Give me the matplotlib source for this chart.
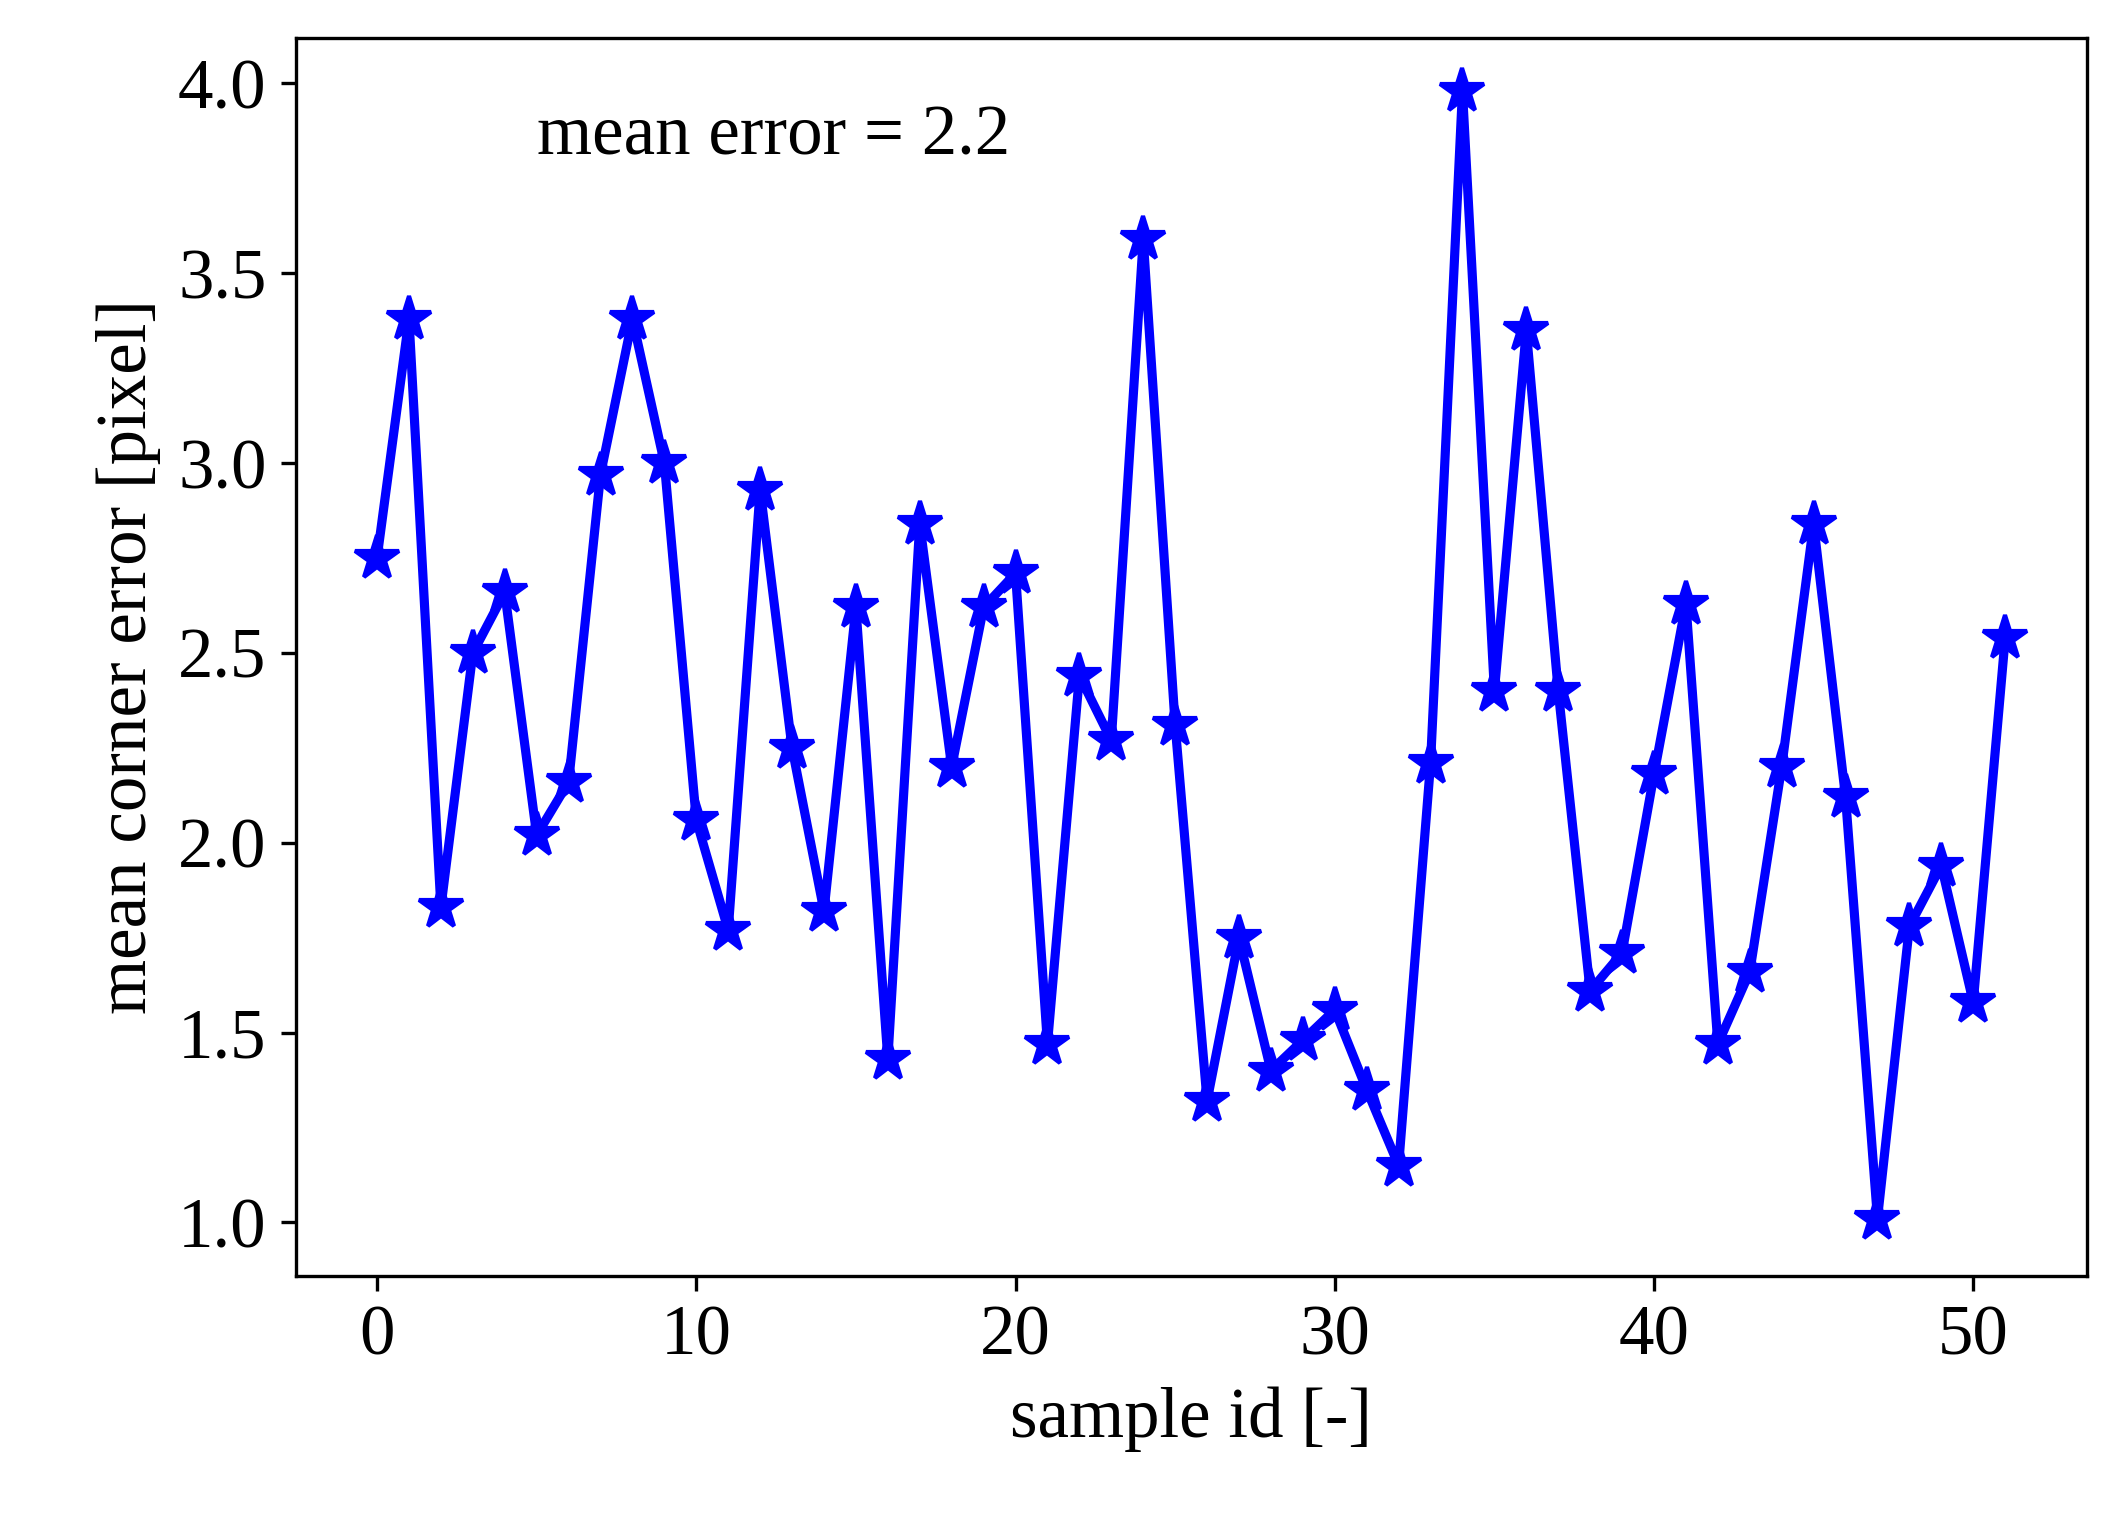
import matplotlib
matplotlib.use('Agg')
import matplotlib.pyplot as plt
import numpy as np

plt.rcParams['font.family'] = ['Liberation Serif', 'DejaVu Serif']
plt.rcParams['mathtext.fontset'] = 'stix'

# mean corner error per sample
errors = [2.75, 3.38, 1.83, 2.50, 2.66, 2.02, 2.16, 2.97, 3.38, 3.00,
          2.06, 1.77, 2.93, 2.25, 1.82, 2.62, 1.43, 2.84, 2.20, 2.62,
          2.71, 1.47, 2.44, 2.27, 3.59, 2.31, 1.32, 1.75, 1.40, 1.48,
          1.56, 1.35, 1.15, 2.21, 3.98, 2.40, 3.35, 2.40, 1.61, 1.71,
          2.18, 2.63, 1.47, 1.66, 2.20, 2.84, 2.12, 1.01, 1.78, 1.94,
          1.58, 2.54]
sample_ids = np.arange(len(errors))

fig = plt.figure(figsize=(7.09, 5.05), dpi=300)
ax = fig.add_axes([0.139, 0.158, 0.842, 0.817])
ax.plot(sample_ids, errors, color='blue', linewidth=2.2,
        marker='*', markersize=11)

ax.text(0.135, 0.92, 'mean error = %.1f' % np.mean(errors),
        transform=ax.transAxes, fontsize=17, va='center')

ax.set_xlabel('sample id [-]', fontsize=17)
ax.set_ylabel('mean corner error [pixel]', fontsize=17)
ax.set_yticks([1.0, 1.5, 2.0, 2.5, 3.0, 3.5, 4.0])
ax.set_xticks([0, 10, 20, 30, 40, 50])
ax.tick_params(labelsize=17)
ax.set_xlim(-2.55, 53.55)
ax.set_ylim(0.86, 4.12)

fig.savefig('out.png', dpi=300, facecolor='white')
